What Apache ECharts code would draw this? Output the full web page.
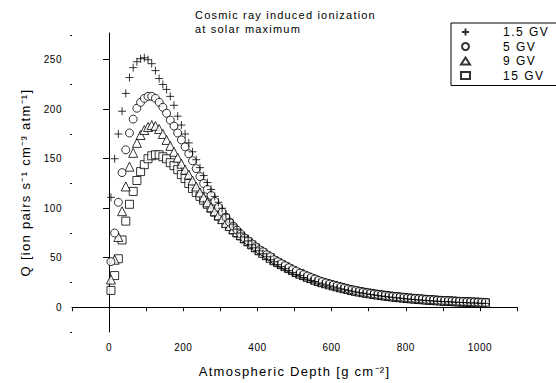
<!DOCTYPE html>
<html>
<head>
<meta charset="utf-8">
<script src="https://cdn.jsdelivr.net/npm/echarts@6/dist/echarts.min.js"></script>
<style>
html,body{margin:0;padding:0;background:#fff;}
#chart{width:556px;height:383px;}
</style>
</head>
<body>
<div id="chart"></div>
<script>
// Atmospheric depth (g cm^-2)
var depth = [5,15,25,35,45,55,65,75,85,95,
  105,115,125,135,145,155,165,175,185,195,
  205,215,225,235,245,255,265,275,285,295,
  305,315,325,335,345,355,365,375,385,395,
  405,415,425,435,445,455,465,475,485,495,
  505,515,525,535,545,555,565,575,585,595,
  605,615,625,635,645,655,665,675,685,695,
  705,715,725,735,745,755,765,775,785,795,
  805,815,825,835,845,855,865,875,885,895,
  905,915,925,935,945,955,965,975,985,995,
  1005,1015];

var q_1_5GV = [111,150,175,198,216,232,242,248,251,252,
  250,246,239,231,225,220,213,204,193,184,
  175,166,157,149,141,133,126,119,112,106,
  100,94,89,84,79,75,71,67,63,60,
  57,54,51,48,46,43,41,39,37,35,
  33,32,30,28.5,27,26,24.5,23.5,22.5,21.5,
  20.5,19.5,18.6,17.8,17,16.2,15.5,14.8,14.1,13.5,
  12.9,12.3,11.8,11.3,10.8,10.3,9.9,9.5,9.1,8.7,
  8.4,8.0,7.7,7.4,7.1,6.8,6.6,6.3,6.1,5.9,
  5.7,5.5,5.3,5.1,4.9,4.8,4.6,4.4,4.3,4.1,
  4.0,3.9];

var q_5GV = [46,75,106,136,159,176,190,201,207,211,
  213,213,211,207,202,196,189,183,176,169,
  162,155,148,140,132,125,119,113,107,101,
  96,91,86,82,78,74,70,67,64,61,
  58,56,53,51,48,46,44,42,40,38,
  36.5,34.5,33,31.5,30,28.5,27,25.8,24.6,23.5,
  22.4,21.4,20.4,19.4,18.5,17.6,16.8,16,15.3,14.6,
  14.0,13.4,12.9,12.4,11.9,11.4,11.0,10.6,10.2,9.8,
  9.4,9.1,8.8,8.5,8.2,7.9,7.6,7.4,7.1,6.9,
  6.7,6.5,6.3,6.1,5.9,5.7,5.6,5.4,5.2,5.1,
  4.9,4.8];

var q_9GV = [28,48,71,97,122,142,156,166,174,179,
  182,184,183,180,175,169,163,157,151,145,
  139,134,128,122,116,111,106,101,97,93,
  89,85,82,79,76,73,70,67,64,61,
  58,55,53,50,48,46,44,42,40,38,
  36,34,32.5,31,29.5,28,26.5,25.3,24.2,23.1,
  22.1,21.1,20.1,19.2,18.3,17.4,16.6,15.9,15.2,14.6,
  14.0,13.4,12.8,12.3,11.8,11.3,10.9,10.5,10.1,9.7,
  9.3,9.0,8.7,8.4,8.1,7.8,7.5,7.3,7.0,6.8,
  6.6,6.4,6.2,6.0,5.8,5.6,5.5,5.3,5.1,5.0,
  4.8,4.7];

var q_15GV = [17,32,49,68,87,104,117,128,137,144,
  150,153,154,154,152,150,146,143,139,134,
  130,125,120,116,112,108,104,100,96,92,
  89,85,82,78,75,72,69,66,63,60,
  57,55,52,50,47,45,43,41,39,37,
  35,34,32,30.5,29,27.5,26,25,24,23,
  22,21,20,19,18,17.2,16.5,15.8,15.1,14.5,
  13.9,13.3,12.8,12.3,11.8,11.3,10.9,10.5,10.1,9.7,
  9.3,9.0,8.7,8.4,8.1,7.8,7.5,7.3,7.0,6.8,
  6.6,6.4,6.2,6.0,5.8,5.6,5.5,5.3,5.1,5.0,
  4.8,4.7];

var seriesNames = ['1.5 GV','5 GV','9 GV','15 GV'];
var xLabelValues = [0,200,400,600,800,1000];
var yLabelValues = [0,50,100,150,200,250];
var yMinorValues = [-25,25,75,125,175,225,275];

var FONT = '"Liberation Sans", Arial, sans-serif';

function pairs(xs, ys){ return xs.map(function(x,i){ return [x, ys[i]]; }); }
function plain(v){ return String(v); }

var chart = echarts.init(document.getElementById('chart'), null, {renderer:'svg'});

var markStyle = {color:'#fff', borderColor:'#000', borderWidth:1};
var plusStyle = {color:'rgba(0,0,0,0)', borderColor:'#000', borderWidth:1};

chart.setOption({
  animation:false,
  backgroundColor:'#fff',
  title:{
    text:'Cosmic ray induced ionization\nat solar maximum',
    left:195, top:8, padding:0,
    textStyle:{fontSize:11, fontWeight:'normal', color:'#000', lineHeight:14, fontFamily:FONT}
  },
  legend:{
    orient:'vertical', left:451, top:23,
    padding:[2,30,3,9],
    borderColor:'#000', borderWidth:1,
    itemWidth:9, itemHeight:7, itemGap:0.5,
    textStyle:{fontSize:12, color:'#000', fontFamily:FONT, lineHeight:14, padding:[0,0,0,28]},
    data:seriesNames
  },
  grid:{left:72, right:39, top:33, bottom:50},
  xAxis:{
    type:'value', min:-100, max:1100, interval:100,
    axisLine:{show:true, lineStyle:{color:'#000', width:1}},
    axisTick:{show:true, length:4, lineStyle:{color:'#000'}},
    axisLabel:{customValues:xLabelValues, formatter:plain, fontSize:10, color:'#000', margin:10, fontFamily:FONT},
    splitLine:{show:false},
    name:'Atmospheric Depth [g cm\u207B\u00B2]',
    nameLocation:'middle', nameGap:33,
    nameTextStyle:{fontSize:13, color:'#000', fontFamily:FONT}
  },
  yAxis:[{
    type:'value', min:-25, max:277,
    axisLine:{show:true, lineStyle:{color:'#000', width:1}},
    axisTick:{show:true, length:6, customValues:yLabelValues, lineStyle:{color:'#000'}},
    axisLabel:{customValues:yLabelValues, formatter:plain, fontSize:10, color:'#000', margin:10, fontFamily:FONT},
    splitLine:{show:false},
    name:'Q [ion pairs s\u207B\u00B9 cm\u207B\u00B3 atm\u207B\u00B9]',
    nameLocation:'middle', nameRotate:90, nameGap:40,
    nameTextStyle:{fontSize:13, color:'#000', fontFamily:FONT}
  },{
    type:'value', min:-25, max:277, position:'left',
    axisLine:{show:false},
    axisTick:{show:true, length:2, customValues:yMinorValues, lineStyle:{color:'#000'}},
    axisLabel:{show:false},
    splitLine:{show:false}
  }],
  series:[
    {name:'15 GV', type:'scatter', symbol:'rect', symbolSize:8, itemStyle:markStyle, data:pairs(depth,q_15GV), z:2},
    {name:'9 GV', type:'scatter', symbol:'triangle', symbolSize:9, itemStyle:markStyle, data:pairs(depth,q_9GV), z:3},
    {name:'5 GV', type:'scatter', symbol:'circle', symbolSize:8, itemStyle:markStyle, data:pairs(depth,q_5GV), z:4},
    {name:'1.5 GV', type:'scatter', symbol:'path://M5 0L5 10M0 5L10 5', symbolSize:8, itemStyle:plusStyle, data:pairs(depth,q_1_5GV), z:5}
  ]
});

// letter spacing similar to the original typesetting
var texts = document.querySelectorAll('#chart svg text');
texts.forEach(function(t){
  var fs = parseFloat(window.getComputedStyle(t).fontSize);
  var ls = 0;
  if (fs === 11) ls = 1.2;
  else if (fs === 12) ls = 1.5;
  else if (fs === 13) ls = 1.3;
  else if (fs === 10) ls = 0.5;
  t.style.letterSpacing = ls + 'px';
});
</script>
</body>
</html>
